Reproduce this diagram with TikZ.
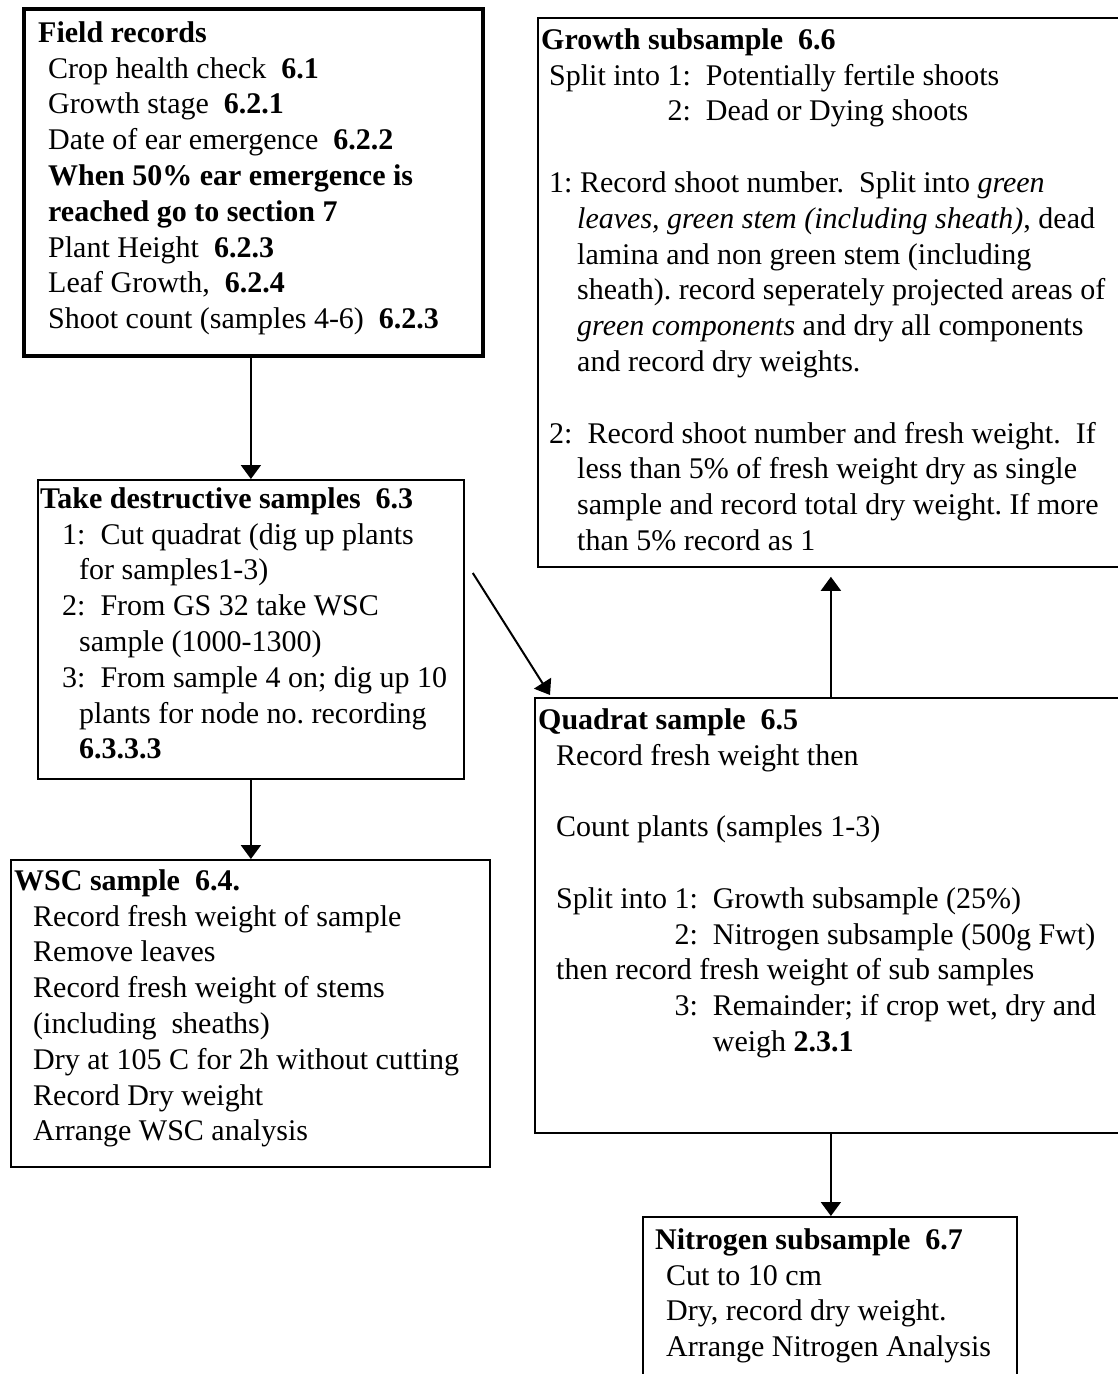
\documentclass[tikz,border=0pt]{standalone}
\usepackage{fontspec}
\setmainfont{Liberation Serif}
\usetikzlibrary{arrows.meta,calc}
\newcommand\myind[1]{\hspace*{#1pt}}
\newcommand\fstrut{\rule{0pt}{23pt}}
\frenchspacing
\tikzset{
  boxthin/.style={draw, line width=1.8pt, rectangle, anchor=north west, inner sep=0pt},
  boxthick/.style={draw, line width=3.8pt, rectangle, anchor=north west, inner sep=0pt},
  txt/.style={anchor=north west, inner sep=0pt, align=left, font=\fontsize{30}{35.8}\selectfont},
  arr/.style={line width=2pt, -{Triangle[length=14pt,width=20pt]}}
}
\begin{document}
\begin{tikzpicture}[x=1pt,y=-1pt]
\useasboundingbox (0,0) rectangle (1118,1374);
\clip (0,0) rectangle (1118,1374);
\fill[white] (0,0) rectangle (1118,1374);

% boxes
\node[boxthick, minimum width=459pt, minimum height=347pt] (field) at (22,7) {};
\node[boxthin, minimum width=586pt, minimum height=549pt] (growth) at (537,17) {};
\node[boxthin, minimum width=426pt, minimum height=299pt] (destr) at (37,479) {};
\node[boxthin, minimum width=479pt, minimum height=307pt] (wsc) at (10,859) {};
\node[boxthin, minimum width=592pt, minimum height=435pt] (quad) at (534,697) {};
\node[boxthin, minimum width=374pt, minimum height=220pt] (nitro) at (642,1216) {};

% texts
\node[txt] (fieldtxt) at (38,19) {\fstrut\textbf{Field records}\\
\myind{10}Crop health check~~\textbf{6.1}\\
\myind{10}Growth stage~~\textbf{6.2.1}\\
\myind{10}Date of ear emergence~~\textbf{6.2.2}\\
\myind{10}\textbf{When 50\% ear emergence is}\\
\myind{10}\textbf{reached go to section 7}\\
\myind{10}Plant Height~~\textbf{6.2.3}\\
\myind{10}Leaf Growth,~~\textbf{6.2.4}\\
\myind{10}Shoot count (samples 4-6)~~\textbf{6.2.3}};

\node[txt] (growthtxt) at (541,26) {\fstrut\textbf{Growth subsample~~6.6}\\
\myind{8}Split into 1:~~Potentially fertile shoots\\
\myind{8}\phantom{Split into }2:~~Dead or Dying shoots\\
\mbox{}\\
\myind{8}1: Record shoot number.~~Split into \textit{green}\\
\myind{36}\textit{leaves, green stem (including sheath)}, dead\\
\myind{36}lamina and non green stem (including\\
\myind{36}sheath). record seperately projected areas of\\
\myind{36}\textit{green components} and dry all components\\
\myind{36}and record dry weights.\\
\mbox{}\\
\myind{8}2:~~Record shoot number and fresh weight.~~If\\
\myind{36}less than 5\% of fresh weight dry as single\\
\myind{36}sample and record total dry weight. If more\\
\myind{36}than 5\% record as 1};

\node[txt] (destrtxt) at (40,485) {\fstrut\textbf{Take destructive samples~~6.3}\\
\myind{22}1:~~Cut quadrat (dig up plants\\
\myind{39}for samples1-3)\\
\myind{22}2:~~From GS 32 take WSC\\
\myind{39}sample (1000-1300)\\
\myind{22}3:~~From sample 4 on; dig up 10\\
\myind{39}plants for node no. recording\\
\myind{39}\textbf{6.3.3.3}};

\node[txt] (wsctxt) at (14,867) {\fstrut\textbf{WSC sample~~6.4.}\\
\myind{19}Record fresh weight of sample\\
\myind{19}Remove leaves\\
\myind{19}Record fresh weight of stems\\
\myind{19}(including~~sheaths)\\
\myind{19}Dry at 105 C for 2h without cutting\\
\myind{19}Record Dry weight\\
\myind{19}Arrange WSC analysis};

\node[txt] (quadtxt) at (538,706) {\fstrut\textbf{Quadrat sample~~6.5}\\
\myind{18}Record fresh weight then\\
\mbox{}\\
\myind{18}Count plants (samples 1-3)\\
\mbox{}\\
\myind{18}Split into 1:~~Growth subsample (25\%)\\
\myind{18}\phantom{Split into }2:~~Nitrogen subsample (500g Fwt)\\
\myind{18}then record fresh weight of sub samples\\
\myind{18}\phantom{Split into }3:~~Remainder; if crop wet, dry and\\
\myind{18}\phantom{Split into 3:~~}weigh \textbf{2.3.1}};

\node[txt] (nitrotxt) at (655,1226) {\fstrut\textbf{Nitrogen subsample~~6.7}\\
\myind{11}Cut to 10 cm\\
\myind{11}Dry, record dry weight.\\
\myind{11}Arrange Nitrogen Analysis};

% connectors
\draw[arr] (field.south -| destr.north) -- (destr.north);
\draw[arr] (destr.south) -- (destr.south |- wsc.north);
\draw[arr] ($(destr.north east)+(8,94)$) -- ($(quad.north west)+(16,-2)$);
\draw[arr] (quad.north) -- ($(growth.south)+(0,9)$);
\draw[arr] (quad.south) -- (quad.south |- nitro.north);
\end{tikzpicture}
\end{document}
